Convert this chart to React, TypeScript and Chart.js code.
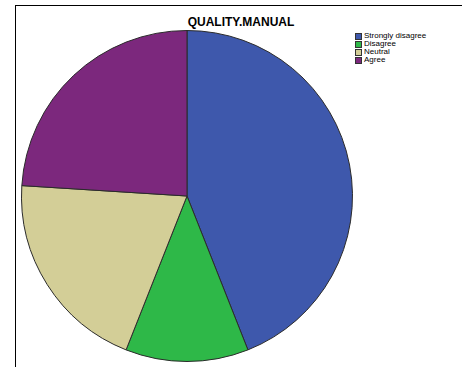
import React, { useEffect, useRef } from "react";
import { Chart, registerables } from "chart.js";

Chart.register(...registerables);

const title = "QUALITY.MANUAL";
const categories = ["Strongly disagree", "Disagree", "Neutral", "Agree"];
const counts = [11, 3, 5, 6];
const colors = ["#3E58AC", "#2EB848", "#D3CE97", "#7C287D"];

export default function App() {
  const canvasRef = useRef<HTMLCanvasElement | null>(null);

  useEffect(() => {
    if (!canvasRef.current) return;
    const chart = new Chart(canvasRef.current, {
      type: "pie",
      data: {
        labels: categories,
        datasets: [
          {
            data: counts,
            backgroundColor: colors,
            borderColor: "#2b2b2b",
            borderWidth: 1,
            borderAlign: "center",
          },
        ],
      },
      options: {
        animation: false,
        responsive: true,
        maintainAspectRatio: false,
        layout: { padding: 0 },
        plugins: {
          legend: { display: false },
          title: { display: false },
          tooltip: { enabled: false },
        },
      },
    });
    return () => chart.destroy();
  }, []);

  const font = '"Liberation Sans", Arial, sans-serif';

  return (
    <div
      style={{
        position: "fixed",
        left: 0,
        top: 0,
        width: 462,
        height: 367,
        background: "#fff",
        overflow: "hidden",
        fontFamily: font,
      }}
    >
      {/* frame */}
      <div style={{ position: "absolute", left: 15, top: 5, width: 447, height: 1, background: "#000" }} />
      <div style={{ position: "absolute", left: 15, top: 5, width: 1, height: 362, background: "#000" }} />

      {/* title */}
      <div
        style={{
          position: "absolute",
          left: 141,
          width: 200,
          top: 15,
          textAlign: "center",
          fontSize: 12,
          fontWeight: "bold",
          lineHeight: "14px",
          color: "#000",
        }}
      >
        {title}
      </div>

      {/* pie */}
      <div style={{ position: "absolute", left: 21, top: 30, width: 332, height: 332 }}>
        <canvas ref={canvasRef} />
      </div>

      {/* legend */}
      <div style={{ position: "absolute", left: 355, top: 32 }}>
        {categories.map((c, i) => (
          <div key={c} style={{ display: "flex", alignItems: "center", height: 8 }}>
            <div
              style={{
                width: 7,
                height: 7,
                boxSizing: "border-box",
                border: "1px solid #333",
                background: colors[i],
                marginRight: 2,
              }}
            />
            <span style={{ fontSize: 8, lineHeight: "8px", color: "#000", whiteSpace: "nowrap" }}>{c}</span>
          </div>
        ))}
      </div>
    </div>
  );
}
